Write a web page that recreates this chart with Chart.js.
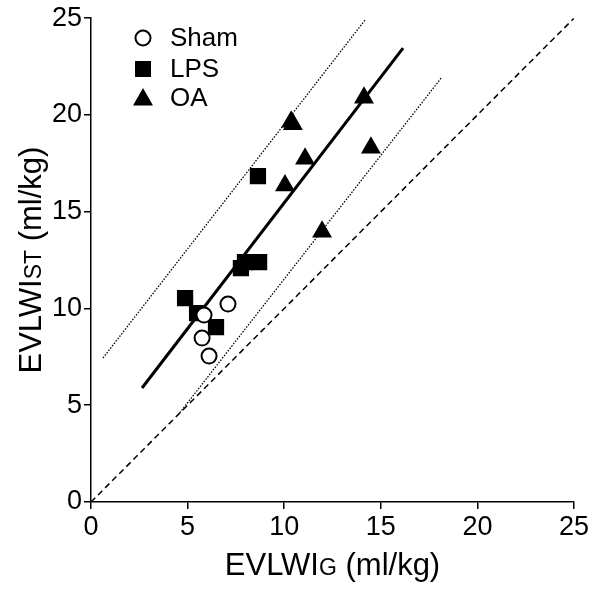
<!DOCTYPE html>
<html>
<head>
<meta charset="utf-8">
<script src="https://cdn.jsdelivr.net/npm/chart.js@4/dist/chart.umd.min.js"></script>
<style>
html,body{margin:0;padding:0;background:#fff;}
#wrap{width:600px;height:589px;position:relative;}
</style>
</head>
<body>
<div id="wrap"><canvas id="c" width="600" height="589"></canvas></div>
<script>
// Series values
const shamX = [7.09, 5.85, 5.75, 6.11];
const shamY = [10.23, 9.66, 8.47, 7.54];
const lpsX = [4.87, 5.49, 6.47, 7.76, 7.97, 8.70, 8.64];
const lpsY = [10.54, 9.76, 9.04, 12.09, 12.40, 12.40, 16.84];
const oaX = [10.36, 10.45, 14.13, 11.08, 14.49, 10.04, 11.96];
const oaY = [19.65, 19.52, 20.89, 17.74, 18.31, 16.35, 13.97];
// Regression line and its limits (endpoints as drawn)
const fitX = [2.64, 16.15];
const fitY = [5.89, 23.45];
const upperX = [0.62, 14.18];
const upperY = [7.44, 24.90];
const lowerX = [4.50, 18.12];
const lowerY = [4.49, 21.90];
const identX = [0, 25];
const identY = [0, 25];
const seriesNames = ['Sham', 'LPS', 'OA'];
const tickValues = [0, 5, 10, 15, 20, 25];

const pts = (xs, ys) => xs.map((x, i) => ({x: x, y: ys[i]}));

const FONT = '"Liberation Sans", Arial, Helvetica, sans-serif';

const titlePlugin = {
  id: 'titles',
  afterDraw(chart) {
    const ctx = chart.ctx;
    const a = chart.chartArea;
    ctx.save();
    ctx.fillStyle = '#000';
    ctx.textBaseline = 'alphabetic';
    const big = '31px ' + FONT, small = '23px ' + FONT;
    const xParts = [['EVLWI', big], ['G', small], [' (ml/kg)', big]];
    const yParts = [['EVLWI', big], ['ST', small], [' (ml/kg)', big]];
    const measure = parts => parts.reduce((s, p) => { ctx.font = p[1]; return s + ctx.measureText(p[0]).width; }, 0);
    let w = measure(xParts);
    let x = (a.left + a.right) / 2 - w / 2;
    const yb = 575;
    xParts.forEach(p => { ctx.font = p[1]; ctx.fillText(p[0], x, yb); x += ctx.measureText(p[0]).width; });
    w = measure(yParts);
    ctx.translate(41, (a.top + a.bottom) / 2);
    ctx.rotate(-Math.PI / 2);
    x = -w / 2;
    yParts.forEach(p => { ctx.font = p[1]; ctx.fillText(p[0], x, 0); x += ctx.measureText(p[0]).width; });
    ctx.restore();

    // legend inside plot
    ctx.save();
    const items = [
      {name: seriesNames[0], y: 38, style: 'circle'},
      {name: seriesNames[1], y: 69, style: 'rect'},
      {name: seriesNames[2], y: 98, style: 'triangle'}
    ];
    items.forEach(it => {
      const cx = 143;
      ctx.lineWidth = 2;
      ctx.strokeStyle = '#000';
      ctx.fillStyle = '#000';
      ctx.beginPath();
      if (it.style === 'circle') {
        ctx.arc(cx, it.y, 7.5, 0, Math.PI * 2);
        ctx.fillStyle = '#fff';
        ctx.fill();
        ctx.stroke();
      } else if (it.style === 'rect') {
        ctx.rect(cx - 8, it.y - 8, 16, 16);
        ctx.fill();
      } else {
        ctx.moveTo(cx, it.y - 10);
        ctx.lineTo(cx + 10, it.y + 7.5);
        ctx.lineTo(cx - 10, it.y + 7.5);
        ctx.closePath();
        ctx.fill();
      }
      ctx.fillStyle = '#000';
      ctx.font = '26px ' + FONT;
      ctx.textBaseline = 'middle';
      ctx.textAlign = 'left';
      ctx.fillText(it.name, 170, it.y + 1);
    });
    ctx.restore();
  }
};

const axisCommon = {
  type: 'linear',
  min: 0,
  max: 25,
  grid: {drawOnChartArea: false, drawTicks: true, tickLength: 7, color: '#000', lineWidth: 1.5},
  border: {display: true, color: '#000', width: 1.5},
  ticks: {
    stepSize: 5,
    color: '#000',
    padding: 2,
    font: {family: FONT, size: 27},
    callback: v => tickValues.includes(v) ? String(v) : ''
  },
  title: {display: false}
};

new Chart(document.getElementById('c'), {
  type: 'scatter',
  data: {
    datasets: [
      {label: seriesNames[0], data: pts(shamX, shamY), pointStyle: 'circle', pointRadius: 7.5,
       backgroundColor: '#fff', borderColor: '#000', borderWidth: 2, order: 1},
      {label: seriesNames[1], data: pts(lpsX, lpsY), pointStyle: 'rect', pointRadius: 11.5,
       backgroundColor: '#000', borderColor: '#000', borderWidth: 0, order: 2},
      {label: seriesNames[2], data: pts(oaX, oaY), pointStyle: 'triangle', pointRadius: 11.5,
       backgroundColor: '#000', borderColor: '#000', borderWidth: 0, order: 3},
      {label: 'fit', data: pts(fitX, fitY), showLine: true, pointRadius: 0, borderColor: '#000',
       borderWidth: 3, order: 4},
      {label: 'upper', data: pts(upperX, upperY), showLine: true, pointRadius: 0, borderColor: '#000',
       borderWidth: 1.3, borderDash: [1.5, 1.5], order: 5},
      {label: 'lower', data: pts(lowerX, lowerY), showLine: true, pointRadius: 0, borderColor: '#000',
       borderWidth: 1.3, borderDash: [1.5, 1.5], order: 6},
      {label: 'identity', data: pts(identX, identY), showLine: true, pointRadius: 0, borderColor: '#000',
       borderWidth: 1.5, borderDash: [6, 4], order: 7}
    ]
  },
  options: {
    responsive: false,
    animation: false,
    devicePixelRatio: 1,
    layout: {padding: {top: 18, right: 26, left: 0, bottom: 0}},
    plugins: {legend: {display: false}, tooltip: {enabled: false}},
    scales: {
      x: Object.assign({}, axisCommon, {
        position: 'bottom',
        afterFit: s => { s.height = 87; }
      }),
      y: Object.assign({}, axisCommon, {
        position: 'left',
        afterFit: s => { s.width = 91; }
      })
    }
  },
  plugins: [titlePlugin]
});
</script>
</body>
</html>
